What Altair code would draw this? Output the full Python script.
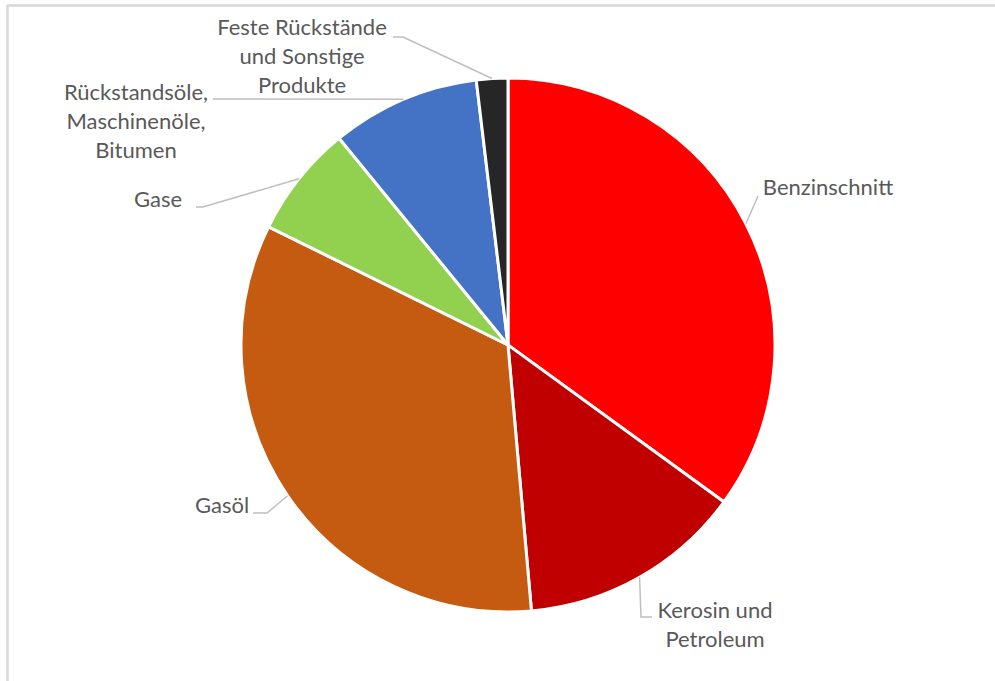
import altair as alt
import pandas as pd
import numpy as np

# ---- data ----
categories = [
    "Benzinschnitt",
    "Kerosin und Petroleum",
    "Gasöl",
    "Gase",
    "Rückstandsöle, Maschinenöle, Bitumen",
    "Feste Rückstände und Sonstige Produkte",
]
label_texts = [
    "Benzinschnitt",
    "Kerosin und\nPetroleum",
    "Gasöl",
    "Gase",
    "Rückstandsöle,\nMaschinenöle,\nBitumen",
    "Feste Rückstände\nund Sonstige\nProdukte",
]
values = [35.0, 13.6, 33.7, 6.8, 9.0, 1.9]
colors = ["#FF0000", "#C00000", "#C55A11", "#92D050", "#4472C4", "#262626"]

# ---- layout ----
W, H = 995, 681
CX, CY, R = 508, 345, 267
# anchor of the first text line (centre)
label_pos = [(828, 188), (715, 611), (222, 506), (158, 200), (136, 93), (302, 28)]
leader_bends = [
    [(758, 196)],
    [(641, 617), (652, 617)],
    [(267, 513), (253, 513)],
    [(203, 207), (196, 207)],
    [(213, 99)],
    [(403, 37), (393, 37)],
]

df = pd.DataFrame({
    "cat": categories,
    "value": values,
    "order": list(range(len(categories))),
    "label": label_texts,
    "lx": [p[0] for p in label_pos],
    "ly": [p[1] for p in label_pos],
})

vals = np.array(values)
total = vals.sum()
start = np.cumsum(vals) - vals
mid = (start + vals / 2) / total * 2 * np.pi

rows = []
for i, c in enumerate(categories):
    ax = CX + R * np.sin(mid[i])
    ay = CY - R * np.cos(mid[i])
    pts = [(ax, ay)] + leader_bends[i]
    for k, (px, py) in enumerate(pts):
        rows.append({"cat": c, "seq": k, "px": px, "py": py})
leaders = pd.DataFrame(rows)

xs = alt.Scale(domain=[0, W], range=[0, W])
ys = alt.Scale(domain=[0, H], range=[0, H])

pie = alt.Chart(df).mark_arc(outerRadius=R, stroke="white", strokeWidth=3).encode(
    theta=alt.Theta("value:Q", stack=True),
    color=alt.Color("cat:N", scale=alt.Scale(domain=categories, range=colors), legend=None),
    order=alt.Order("order:Q"),
    x=alt.value(CX),
    y=alt.value(CY),
)

lines = alt.Chart(leaders).mark_line(color="#BFBFBF", strokeWidth=1.5).encode(
    x=alt.X("px:Q", scale=xs, axis=None),
    y=alt.Y("py:Q", scale=ys, axis=None),
    detail="cat:N",
    order="seq:Q",
)

labels = alt.Chart(df).mark_text(
    font="Lato", fontSize=22, color="#595959", align="center", baseline="middle",
    lineHeight=29, lineBreak="\n",
).encode(
    x=alt.X("lx:Q", scale=xs, axis=None),
    y=alt.Y("ly:Q", scale=ys, axis=None),
    text="label:N",
)

frame_top = alt.Chart(df).mark_rule(color="#D9D9D9", strokeWidth=1.5).encode(
    x=alt.value(7), x2=alt.value(W), y=alt.value(5.5)
)
frame_left = alt.Chart(df).mark_rule(color="#D9D9D9", strokeWidth=1.5).encode(
    x=alt.value(7.5), y=alt.value(5), y2=alt.value(H)
)

chart = alt.layer(frame_top, frame_left, pie, lines, labels).properties(
    width=W, height=H, padding=0, autosize=alt.AutoSizeParams(type="none"),
    background="white",
).configure_view(stroke=None)

chart.save("out.html", embed_options={"renderer": "svg", "actions": False})
